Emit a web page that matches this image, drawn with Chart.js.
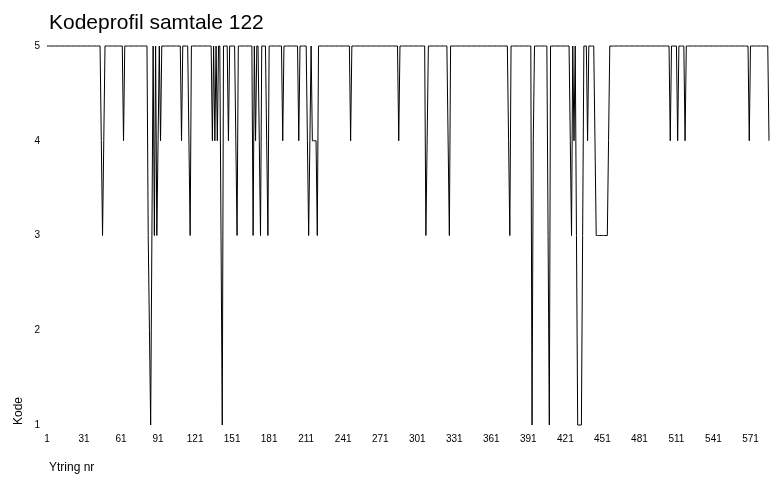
<!DOCTYPE html>
<html>
<head>
<meta charset="utf-8">
<title>Kodeprofil samtale 122</title>
<script src="https://cdn.jsdelivr.net/npm/chart.js@4.4.1/dist/chart.umd.min.js"></script>
<style>
  html, body { margin: 0; padding: 0; background: #ffffff; }
  #wrap { width: 770px; height: 479px; }
</style>
</head>
<body>
<div id="wrap"><canvas id="profile" width="770" height="479"></canvas></div>
<script>
// Texts
const chartTitle = 'Kodeprofil samtale 122';
const xTitle = 'Ytring nr';
const yTitle = 'Kode';

// Axis ticks
const xTickLabels = [1, 31, 61, 91, 121, 151, 181, 211, 241, 271, 301, 331, 361, 391, 421, 451, 481, 511, 541, 571];
const yTickValues = [1, 2, 3, 4, 5];

// Code per utterance, thirty utterances per row (row n starts at utterance 30n+1)
const codes001 = [5,5,5,5,5,5,5,5,5,5, 5,5,5,5,5,5,5,5,5,5, 5,5,5,5,5,5,5,5,5,5];
const codes031 = [5,5,5,5,5,5,5,5,5,5, 5,5,5,5,4,3,4,5,5,5, 5,5,5,5,5,5,5,5,5,5];
const codes061 = [5,5,4,5,5,5,5,5,5,5, 5,5,5,5,5,5,5,5,5,5, 5,5,3,2,1,3,5,3,5,3];
const codes091 = [4,5,4,5,5,5,5,5,5,5, 5,5,5,5,5,5,5,5,5,4, 5,5,5,5,5,4,3,5,5,5];
const codes121 = [5,5,5,5,5,5,5,5,5,5, 5,5,5,5,4,5,4,5,4,5, 5,3,1,5,5,5,5,4,5,5];
const codes151 = [5,5,5,4,3,5,5,5,5,5, 5,5,5,5,5,5,5,3,5,4, 5,5,4,3,5,5,5,5,4,3];
const codes181 = [5,5,5,5,5,5,5,5,5,5, 5,4,5,5,5,5,5,5,5,5, 5,5,5,5,4,5,5,5,5,5];
const codes211 = [5,4,3,4,5,4,4,4,4,3, 5,5,5,5,5,5,5,5,5,5, 5,5,5,5,5,5,5,5,5,5];
const codes241 = [5,5,5,5,5,5,4,5,5,5, 5,5,5,5,5,5,5,5,5,5, 5,5,5,5,5,5,5,5,5,5];
const codes271 = [5,5,5,5,5,5,5,5,5,5, 5,5,5,5,5,4,5,5,5,5, 5,5,5,5,5,5,5,5,5,5];
const codes301 = [5,5,5,5,5,5,5,3,4,5, 5,5,5,5,5,5,5,5,5,5, 5,5,5,5,5,4,3,5,5,5];
const codes331 = [5,5,5,5,5,5,5,5,5,5, 5,5,5,5,5,5,5,5,5,5, 5,5,5,5,5,5,5,5,5,5];
const codes361 = [5,5,5,5,5,5,5,5,5,5, 5,5,5,5,4,3,5,5,5,5, 5,5,5,5,5,5,5,5,5,5];
const codes391 = [5,5,5,1,4,5,5,5,5,5, 5,5,5,5,5,5,3,1,5,5, 5,5,5,5,5,5,5,5,5,5];
const codes421 = [5,5,5,5,4,3,5,4,5,3, 1,1,1,1,3,5,5,5,4,5, 5,5,5,5,4,3,3,3,3,3];
const codes451 = [3,3,3,3,3,4,5,5,5,5, 5,5,5,5,5,5,5,5,5,5, 5,5,5,5,5,5,5,5,5,5];
const codes481 = [5,5,5,5,5,5,5,5,5,5, 5,5,5,5,5,5,5,5,5,5, 5,5,5,5,5,4,5,5,5,5];
const codes511 = [5,4,5,5,5,5,5,4,5,5, 5,5,5,5,5,5,5,5,5,5, 5,5,5,5,5,5,5,5,5,5];
const codes541 = [5,5,5,5,5,5,5,5,5,5, 5,5,5,5,5,5,5,5,5,5, 5,5,5,5,5,5,5,5,5,4];
const codes571 = [5,5,5,5,5,5,5,5,5,5, 5,5,5,5,5,4];

const codes = [].concat(codes001, codes031, codes061, codes091, codes121, codes151, codes181,
  codes211, codes241, codes271, codes301, codes331, codes361, codes391, codes421, codes451,
  codes481, codes511, codes541, codes571);
const utterances = codes.map((_, i) => i + 1);

const FONT = '"Liberation Sans", Arial, sans-serif';

// Title and axis titles
const frameText = {
  id: 'frameText',
  afterDraw(chart) {
    const { ctx, chartArea } = chart;
    ctx.save();
    ctx.fillStyle = '#000000';
    ctx.textAlign = 'left';
    ctx.textBaseline = 'alphabetic';
    ctx.font = '21px ' + FONT;
    ctx.fillText(chartTitle, chartArea.left + 2, 29);
    ctx.font = '12px ' + FONT;
    ctx.fillText(xTitle, chartArea.left + 2, 471);
    ctx.translate(22, chartArea.bottom);
    ctx.rotate(-Math.PI / 2);
    ctx.fillText(yTitle, 0, 0);
    ctx.restore();
  }
};

new Chart(document.getElementById('profile'), {
  type: 'line',
  data: {
    labels: utterances,
    datasets: [{
      data: codes,
      borderColor: '#000000',
      borderWidth: 1,
      pointRadius: 0,
      pointHoverRadius: 0,
      tension: 0,
      fill: false,
      clip: false
    }]
  },
  options: {
    responsive: false,
    animation: false,
    devicePixelRatio: 1,
    events: [],
    layout: { padding: { top: 46, right: 1, left: 0, bottom: 0 } },
    plugins: {
      legend: { display: false },
      title: { display: false },
      tooltip: { enabled: false }
    },
    scales: {
      x: {
        type: 'category',
        offset: false,
        grid: { display: false, drawTicks: false },
        border: { display: false },
        afterFit(scale) {
          scale.height = 54;
          scale.paddingLeft = 0;
          scale.paddingRight = 0;
        },
        ticks: {
          autoSkip: false,
          maxRotation: 0,
          minRotation: 0,
          padding: 8,
          color: '#000000',
          font: { family: FONT, size: 10 },
          callback(value, index) {
            const label = utterances[index];
            return xTickLabels.includes(label) ? String(label) : '';
          }
        }
      },
      y: {
        type: 'linear',
        min: 1,
        max: 5,
        afterFit(scale) {
          scale.width = 47;
          scale.paddingTop = 0;
          scale.paddingBottom = 0;
        },
        afterBuildTicks(scale) { scale.ticks = yTickValues.map(v => ({ value: v })); },
        grid: { display: false, drawTicks: false },
        border: { display: false },
        ticks: {
          padding: 7,
          color: '#000000',
          font: { family: FONT, size: 10 }
        }
      }
    }
  },
  plugins: [frameText]
});
</script>
</body>
</html>
